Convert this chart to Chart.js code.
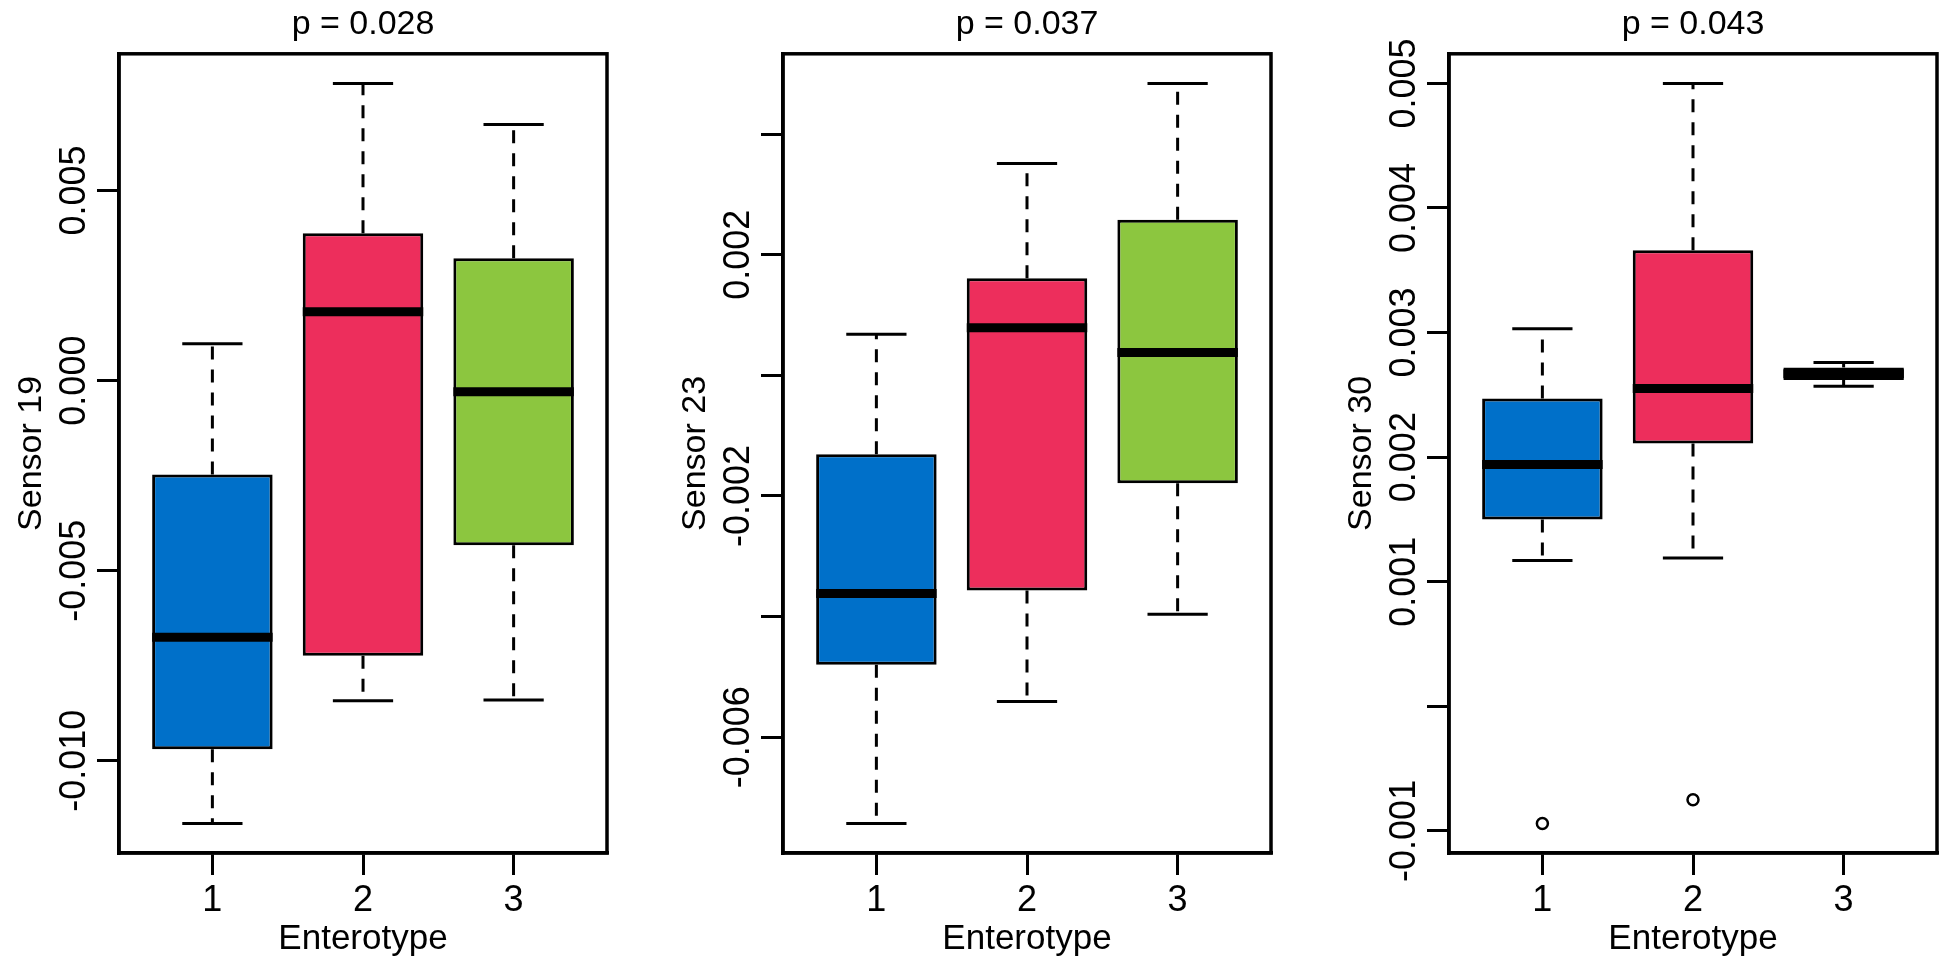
<!DOCTYPE html>
<html>
<head>
<meta charset="utf-8">
<title>Sensor signal by enterotype</title>
<script src="https://cdn.jsdelivr.net/npm/chart.js@4.4.1/dist/chart.umd.min.js"></script>
<style>
  html, body { margin: 0; padding: 0; background: #fff; }
  #wrap { position: relative; width: 1950px; height: 968px; overflow: hidden; background: #fff; }
  #wrap canvas { position: absolute; top: 0; }
</style>
</head>
<body>
<div id="wrap">
  <canvas id="sensor19" width="619" height="968" style="left:0px"></canvas>
  <canvas id="sensor23" width="619" height="968" style="left:664px"></canvas>
  <canvas id="sensor30" width="619" height="968" style="left:1330px"></canvas>
</div>
<script>
/* ======================================================
   Data
=========================================================*/
const enterotypes = ["1", "2", "3"];
const boxColors = ["#0070C9", "#ED2E5C", "#8CC63F"];

// Sensor 19  (p = 0.028)
const s19Min = [-0.01165, -0.00842, -0.0084];
const s19Q1 = [-0.0097, -0.00724, -0.00433];
const s19Median = [-0.00675, 0.00181, -0.00029];
const s19Q3 = [-0.00247, 0.00388, 0.00322];
const s19Max = [0.00097, 0.00782, 0.00674];
const s19Outliers = [[], [], []];
const s19Ticks = [-0.01, -0.005, 0, 0.005];
const s19TickLabels = ["-0.010", "-0.005", "0.000", "0.005"];

// Sensor 23  (p = 0.037)
const s23Min = [-0.00743, -0.00541, -0.00396];
const s23Q1 = [-0.0048, -0.00357, -0.00179];
const s23Median = [-0.00362, 0.00079, 0.00038];
const s23Q3 = [-0.00131, 0.00161, 0.00258];
const s23Max = [0.00068, 0.00351, 0.00484];
const s23Outliers = [[], [], []];
const s23Ticks = [-0.006, -0.004, -0.002, 0, 0.002, 0.004];
const s23TickLabels = ["-0.006", "", "-0.002", "", "0.002", ""];

// Sensor 30  (p = 0.043)
const s30Min = [0.00117, 0.00119, 0.00257];
const s30Q1 = [0.0015, 0.00211, 0.00262];
const s30Median = [0.00194, 0.00255, 0.00267];
const s30Q3 = [0.00247, 0.00366, 0.00272];
const s30Max = [0.00303, 0.005, 0.00276];
const s30Outliers = [[-0.00094], [-0.00075], []];
const s30Ticks = [-0.001, 0, 0.001, 0.002, 0.003, 0.004, 0.005];
const s30TickLabels = ["-0.001", "", "0.001", "0.002", "0.003", "0.004", "0.005"];

/* ======================================================
   Look
=========================================================*/
const FONT = "'Liberation Sans', Arial, Helvetica, sans-serif";
Chart.defaults.font.family = FONT;
Chart.defaults.color = "#000";

/* ======================================================
   Plugin: whiskers, caps, medians, frame, rotated y labels
=========================================================*/
function line(ctx, x1, y1, x2, y2) {
  ctx.beginPath();
  ctx.moveTo(x1, y1);
  ctx.lineTo(x2, y2);
  ctx.stroke();
}

const boxExtras = {
  id: "boxExtras",
  beforeDatasetsDraw(chart, args, opts) {
    const ctx = chart.ctx;
    const y = chart.scales.y;
    const bars = chart.getDatasetMeta(0).data;
    ctx.save();
    ctx.strokeStyle = "#000";
    ctx.lineWidth = 3;
    bars.forEach((bar, i) => {
      const yMax = y.getPixelForValue(opts.max[i]);
      const yMin = y.getPixelForValue(opts.min[i]);
      const yQ3 = y.getPixelForValue(opts.q3[i]);
      const yQ1 = y.getPixelForValue(opts.q1[i]);
      const half = bar.width / 4;

      // dashed whiskers from box edge out to the staple
      ctx.setLineDash([13, 10]);
      line(ctx, bar.x, yQ3, bar.x, yMax);
      line(ctx, bar.x, yQ1, bar.x, yMin);
      ctx.setLineDash([]);

      // staples
      line(ctx, bar.x - half, yMax, bar.x + half, yMax);
      line(ctx, bar.x - half, yMin, bar.x + half, yMin);
    });
    ctx.restore();
  },
  afterDatasetsDraw(chart, args, opts) {
    const ctx = chart.ctx;
    const y = chart.scales.y;
    const area = chart.chartArea;
    const bars = chart.getDatasetMeta(0).data;
    ctx.save();

    // medians (thick, like R's medlwd = 3)
    ctx.strokeStyle = "#000";
    ctx.lineWidth = 9;
    bars.forEach((bar, i) => {
      const yMed = y.getPixelForValue(opts.median[i]);
      line(ctx, bar.x - bar.width / 2, yMed, bar.x + bar.width / 2, yMed);
    });

    // full box around the plot region
    ctx.lineWidth = 3.5;
    ctx.strokeRect(area.left, area.top, area.right - area.left, area.bottom - area.top);

    // y tick labels, rotated like R's las = 0
    ctx.fillStyle = "#000";
    ctx.font = "36px " + FONT;
    ctx.textAlign = "center";
    ctx.textBaseline = "middle";
    opts.ticks.forEach((v, i) => {
      const label = opts.labels[i];
      if (!label) return;
      ctx.save();
      ctx.translate(area.left - 44, y.getPixelForValue(v));
      ctx.rotate(-Math.PI / 2);
      ctx.fillText(label, 0, 0);
      ctx.restore();
    });
    ctx.restore();
  },
};

/* ======================================================
   Build one panel
=========================================================*/
function makePanel(canvasId, title, yTitle, p) {
  const all = p.min.concat(p.max, p.outliers.flat());
  const lo = Math.min(...all);
  const hi = Math.max(...all);
  const yPad = (hi - lo) * 0.04; // R default axis extension
  const xPad = enterotypes.length * 0.04;

  const boxes = enterotypes.map((c, i) => ({ x: i + 1, y: [p.q1[i], p.q3[i]] }));
  const points = [];
  p.outliers.forEach((list, i) => list.forEach((v) => points.push({ x: i + 1, y: v })));

  return new Chart(document.getElementById(canvasId), {
    type: "bar",
    data: {
      datasets: [
        {
          type: "bar",
          data: boxes,
          backgroundColor: boxColors,
          borderColor: "#000",
          borderWidth: 3,
          borderSkipped: false,
          barPercentage: 0.8,
          categoryPercentage: 1,
        },
        {
          type: "scatter",
          data: points,
          pointRadius: 5.5,
          pointBorderWidth: 2.5,
          pointBorderColor: "#000",
          pointBackgroundColor: "rgba(0,0,0,0)",
        },
      ],
    },
    plugins: [boxExtras],
    options: {
      responsive: false,
      animation: false,
      devicePixelRatio: 1,
      events: [],
      layout: { padding: { left: 0, right: 12, top: 0, bottom: 0 } },
      plugins: {
        legend: { display: false },
        tooltip: { enabled: false },
        title: {
          display: true,
          text: title,
          fullSize: false,
          color: "#000",
          font: { size: 34, weight: "normal" },
          padding: { top: 4, bottom: 9 },
        },
        boxExtras: {
          min: p.min,
          q1: p.q1,
          median: p.median,
          q3: p.q3,
          max: p.max,
          ticks: p.ticks,
          labels: p.labels,
        },
      },
      scales: {
        x: {
          type: "linear",
          offset: false,
          bounds: "data",
          min: 0.5 - xPad,
          max: enterotypes.length + 0.5 + xPad,
          afterBuildTicks: (axis) => {
            axis.ticks = enterotypes.map((c, i) => ({ value: i + 1 }));
          },
          afterFit: (axis) => {
            axis.height = 115;
          },
          grid: {
            display: true,
            offset: false,
            drawOnChartArea: false,
            drawTicks: true,
            tickLength: 22,
            color: "#000",
            lineWidth: 3,
          },
          border: { display: true, color: "#000", width: 3.5 },
          ticks: {
            autoSkip: false,
            maxRotation: 0,
            padding: 4,
            color: "#000",
            font: { size: 36 },
            callback: (v, i) => enterotypes[i],
          },
          title: {
            display: true,
            text: "Enterotype",
            color: "#000",
            font: { size: 35 },
            padding: { top: 0, bottom: 8 },
          },
        },
        y: {
          type: "linear",
          beginAtZero: false,
          bounds: "data",
          min: lo - yPad,
          max: hi + yPad,
          afterBuildTicks: (axis) => {
            axis.ticks = p.ticks.map((v) => ({ value: v }));
          },
          afterFit: (axis) => {
            axis.width = 119;
          },
          grid: {
            display: true,
            drawOnChartArea: false,
            drawTicks: true,
            tickLength: 22,
            color: "#000",
            lineWidth: 3,
          },
          border: { display: true, color: "#000", width: 3.5 },
          ticks: { display: false },
          title: {
            display: true,
            text: yTitle,
            color: "#000",
            font: { size: 34 },
            padding: { top: 11, bottom: 0 },
          },
        },
      },
    },
  });
}

/* ======================================================
   Draw the three panels
=========================================================*/
makePanel("sensor19", "p = 0.028", "Sensor 19", {
  min: s19Min, q1: s19Q1, median: s19Median, q3: s19Q3, max: s19Max,
  outliers: s19Outliers, ticks: s19Ticks, labels: s19TickLabels,
});

makePanel("sensor23", "p = 0.037", "Sensor 23", {
  min: s23Min, q1: s23Q1, median: s23Median, q3: s23Q3, max: s23Max,
  outliers: s23Outliers, ticks: s23Ticks, labels: s23TickLabels,
});

makePanel("sensor30", "p = 0.043", "Sensor 30", {
  min: s30Min, q1: s30Q1, median: s30Median, q3: s30Q3, max: s30Max,
  outliers: s30Outliers, ticks: s30Ticks, labels: s30TickLabels,
});
</script>
</body>
</html>
